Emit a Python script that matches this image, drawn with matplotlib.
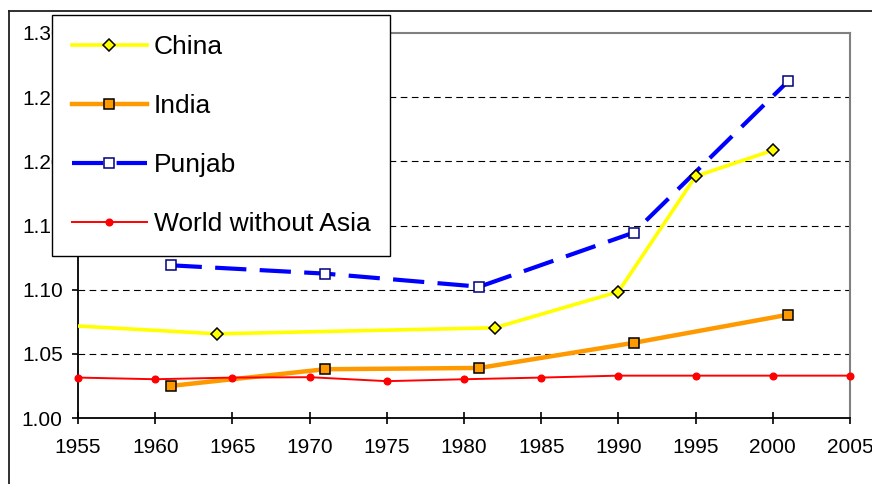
import matplotlib
matplotlib.use("Agg")
import matplotlib.pyplot as plt
from matplotlib.lines import Line2D

plt.rcParams['font.family'] = ['Liberation Sans', 'DejaVu Sans']

china_years = [1953, 1964, 1982, 1990, 1995, 2000]
china_vals = [1.073, 1.0656, 1.0703, 1.0984, 1.1883, 1.2086]

india_years = [1961, 1971, 1981, 1991, 2001]
india_vals = [1.025, 1.038, 1.039, 1.0586, 1.0805]

punjab_years = [1961, 1971, 1981, 1991, 2001]
punjab_vals = [1.119, 1.1125, 1.1023, 1.1445, 1.2625]

world_years = [1955, 1960, 1965, 1970, 1975, 1980, 1985, 1990, 1995, 2000, 2005]
world_vals = [1.0315, 1.0302, 1.0315, 1.0318, 1.0287, 1.0302, 1.0315, 1.033, 1.033, 1.033, 1.033]

x_ticks = [1955, 1960, 1965, 1970, 1975, 1980, 1985, 1990, 1995, 2000, 2005]
y_ticks = [1.00, 1.05, 1.10, 1.15, 1.20, 1.25, 1.30]
y_labels = ["1.00", "1.05", "1.10", "1.15", "1.20", "1.25", "1.30"]

W, H = 872, 484
fig = plt.figure(figsize=(W / 100, H / 100), dpi=100)
ax = fig.add_axes([78 / W, 1 - 418 / H, (850 - 78) / W, (418 - 33) / H])

ax.set_xlim(1955, 2005)
ax.set_ylim(1.00, 1.30)

for y in y_ticks[1:-1]:
    ax.axhline(y, color='black', lw=0.8, ls=(0, (6, 4)), zorder=1)

l_china, = ax.plot(china_years, china_vals, color='#FFFF00', lw=2.6, marker='D',
                   markersize=6.5, markerfacecolor='#FFFF00', markeredgecolor='black',
                   markeredgewidth=1.1, markevery=list(range(1, len(china_years))),
                   zorder=4, label='China')
l_india, = ax.plot(india_years, india_vals, color='#FF9900', lw=3.2, marker='s',
                   markersize=7.5, markerfacecolor='#FF9900', markeredgecolor='black',
                   markeredgewidth=1.1, zorder=5, label='India')
l_punjab, = ax.plot(punjab_years, punjab_vals, color='#0000FF', lw=3.0,
                    ls=(0, (7.5, 3.2)), marker='s', markersize=7.5,
                    markerfacecolor='white', markeredgecolor='#000080',
                    markeredgewidth=1.1, zorder=3, label='Punjab')
l_world, = ax.plot(world_years, world_vals, color='#FF0000', lw=1.4, marker='o',
                   markersize=4.8, markerfacecolor='#FF0000', markeredgecolor='#FF0000',
                   zorder=6, clip_on=False, label='World without Asia')

ax.set_xticks(x_ticks)
ax.set_xticklabels([str(v) for v in x_ticks])
ax.set_yticks(y_ticks)
ax.set_yticklabels(y_labels)
ax.tick_params(axis='x', direction='inout', length=9, width=1.2, pad=10, labelsize=15)
ax.tick_params(axis='y', direction='out', length=4, width=1.2, pad=7, labelsize=15)

for s in ['left', 'bottom']:
    ax.spines[s].set_color('black')
    ax.spines[s].set_linewidth(1.3)
for s in ['top', 'right']:
    ax.spines[s].set_color('#808080')
    ax.spines[s].set_linewidth(1.5)

# outer chart-area frame
fig.add_artist(Line2D([9 / W, 1.0], [1 - 11 / H, 1 - 11 / H], transform=fig.transFigure,
                      color='#202020', lw=1.3))
fig.add_artist(Line2D([9 / W, 9 / W], [0, 1 - 11 / H], transform=fig.transFigure,
                      color='#202020', lw=1.3))

leg = fig.legend(handles=[l_china, l_india, l_punjab, l_world],
                 loc='upper left', bbox_to_anchor=(52 / W, 1 - 15 / H),
                 borderaxespad=0, fontsize=19, frameon=True, fancybox=False,
                 framealpha=1, edgecolor='black', handlelength=2.85,
                 handletextpad=0.25, labelspacing=1.33, borderpad=0.75)
leg.get_frame().set_linewidth(1.0)

fig.savefig('out.png', dpi=100)
